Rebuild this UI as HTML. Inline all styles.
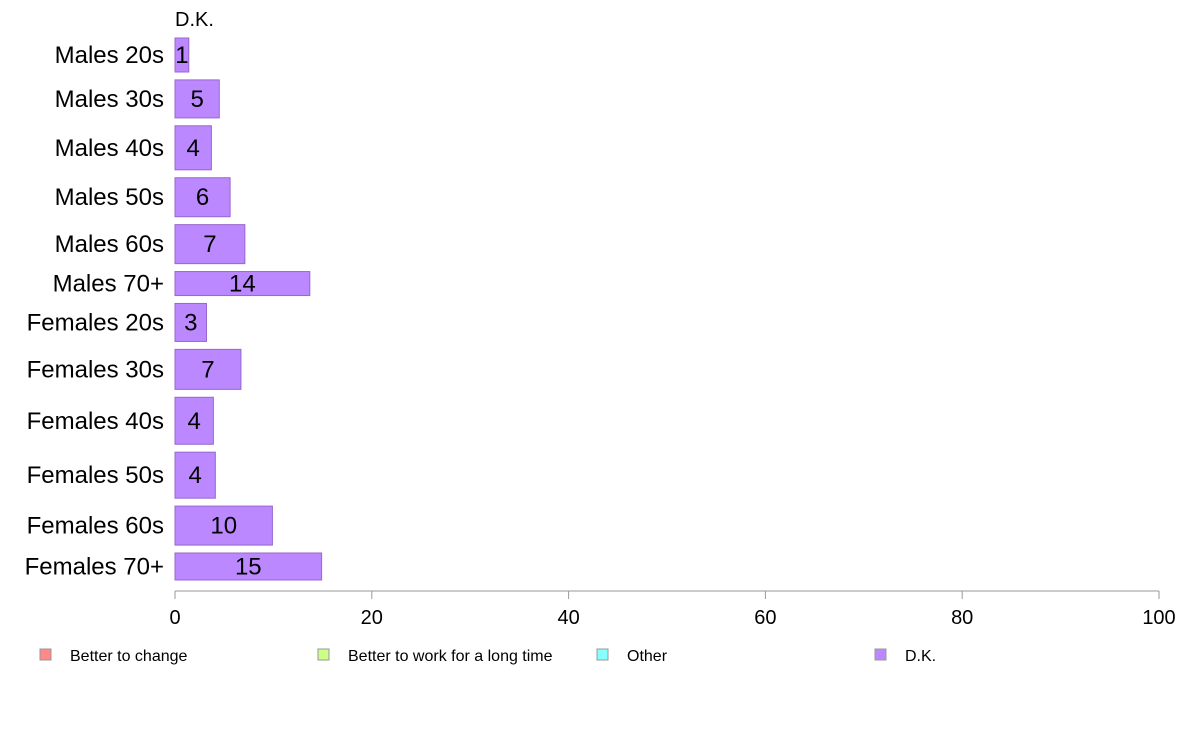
<!DOCTYPE html>
<html><head><meta charset="utf-8"><style>
body{margin:0;background:#fff;}
svg{display:block;font-family:"Liberation Sans",Arial,sans-serif;}
</style></head><body>
<svg id="chart" width="1188" height="736">
<text x="175" y="26" font-size="20">D.K.</text>
<g id="bars"></g>
<g id="axis"></g>
<g id="legend"></g>
</svg>
<script>
const categories=["Males 20s","Males 30s","Males 40s","Males 50s","Males 60s","Males 70+","Females 20s","Females 30s","Females 40s","Females 50s","Females 60s","Females 70+"];
const values=[1.4,4.5,3.7,5.6,7.1,13.7,3.2,6.7,3.9,4.1,9.9,14.9];
const labels=["1","5","4","6","7","14","3","7","4","4","10","15"];
const groupSizes=[34,38,44,39,39,24,38,40,47,46,39,27];
const ticks=[0,20,40,60,80,100];
const legendItems=["Better to change","Better to work for a long time","Other","D.K."];
const legendColors=["#f88","#cf8","#8ff","#b8f"];
const NS="http://www.w3.org/2000/svg";
const x=v=>175+v*9.84;
const top0=38,bottom0=580;
const gap=(bottom0-top0-groupSizes.reduce((a,b)=>a+b,0))/(groupSizes.length-1);
function mk(t,a,p){const e=document.createElementNS(NS,t);for(const k in a)e.setAttribute(k,a[k]);p.appendChild(e);return e;}
const bars=document.getElementById('bars');
let yy=top0;
categories.forEach((c,i)=>{
  const h=groupSizes[i],cy=yy+h/2;
  const r=mk('rect',{x:x(0),y:yy,width:x(values[i])-x(0),height:h,fill:'#bb88ff',stroke:'#9966cc','stroke-width':1},bars);
  
  
  const l=mk('text',{x:x(values[i])/2+x(0)/2,y:cy+8,'font-size':24,'text-anchor':'middle'},bars);
  l.textContent=labels[i];
  
  
  const t=mk('text',{x:164,y:cy+8,'font-size':24,'text-anchor':'end'},bars);
  t.textContent=c;
  
  
  yy+=h+gap;
});
const ax=document.getElementById('axis');
const al=mk('line',{x1:x(0),x2:x(100),y1:591,y2:591,stroke:'#999','stroke-width':1},ax);


ticks.forEach(v=>{
  const tl=mk('line',{x1:x(v),x2:x(v),y1:591,y2:599,stroke:'#999'},ax);
  
  
  const tt=mk('text',{x:x(v),y:624,'font-size':20,'text-anchor':'middle'},ax);
  tt.textContent=v;
  
  
});
const lg=document.getElementById('legend');
const lx=[40,318,597,875];
legendItems.forEach((s,i)=>{
  const r=mk('rect',{x:lx[i],y:649,width:11,height:11,fill:legendColors[i],stroke:'#999'},lg);
  
  
  const t=mk('text',{x:lx[i]+30,y:661,'font-size':16},lg);
  t.textContent=s;
  
  
});
</script>
</body></html>
